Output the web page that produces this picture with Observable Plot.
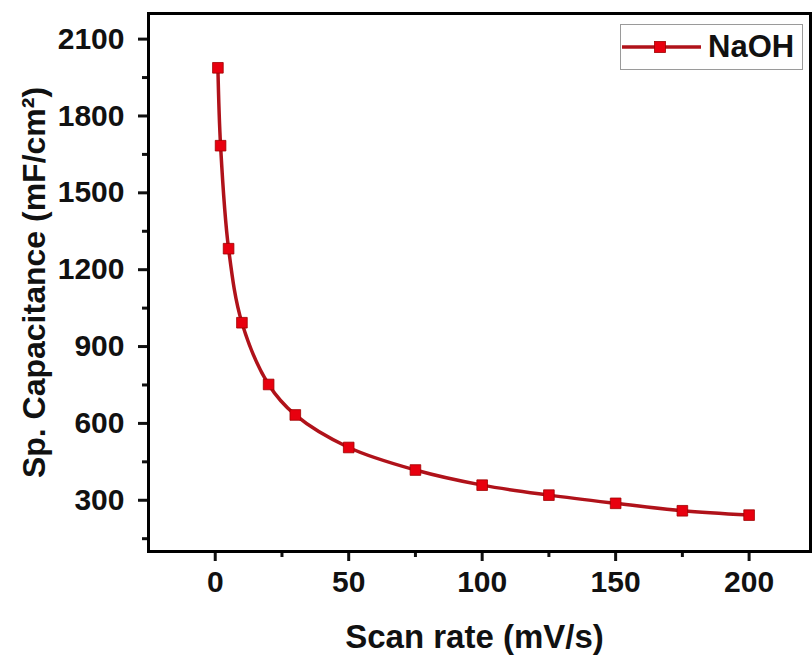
<!DOCTYPE html>
<html><head><meta charset="utf-8">
<script src="https://cdn.jsdelivr.net/npm/d3@7"></script>
<script src="https://cdn.jsdelivr.net/npm/@observablehq/plot@0.6"></script>
<style>
body{margin:0;background:#fff;}
#wrap{position:relative;width:812px;height:655px;}
#legend{position:absolute;left:620px;top:24px;width:181px;height:44px;border:1px solid #9a9a9a;background:#fff;font-family:"Liberation Sans",Arial,sans-serif;font-weight:bold;font-size:31px;display:flex;align-items:center;color:#111;}
#legend svg{display:block;margin-right:3px;}
</style></head><body><div id="wrap"></div>
<script>
const scanRate = [1, 2, 5, 10, 20, 30, 50, 75, 100, 125, 150, 175, 200];
const capacitance = [1988, 1684, 1282, 993, 752, 633, 506, 418, 359, 320, 288, 259, 242];
const seriesName = "NaOH";
const xTicks = [0, 50, 100, 150, 200];
const xMinor = [25, 75, 125, 175];
const yTicks = [300, 600, 900, 1200, 1500, 1800, 2100];
const yMinor = [150, 450, 750, 1050, 1350, 1650, 1950];
const xTitle = "Scan rate (mV/s)";
const yTitle = "Sp. Capacitance (mF/cm²)";

const data = scanRate.map((x, i) => ({x, y: capacitance[i]}));
const lineColor = "#b0121a";
const markColor = "#e8000f";

const chart = Plot.plot({
  width: 812, height: 655,
  marginLeft: 148, marginRight: 2, marginTop: 13, marginBottom: 104,
  x: {domain: [-25, 223]},
  y: {domain: [100, 2200]},
  style: {fontFamily: "'Liberation Sans', Arial, sans-serif", fontWeight: "bold", background: "#fff", color: "#111"},
  marks: [
    Plot.axisX({ticks: xTicks, tickSize: 10, tickPadding: 9, fontSize: 30, strokeWidth: 3, label: null, tickFormat: d => String(d)}),
    Plot.axisX({ticks: xMinor, tickSize: 6, strokeWidth: 3, label: null, tickFormat: () => ""}),
    Plot.axisY({ticks: yTicks, tickSize: 10, tickPadding: 14, fontSize: 30, strokeWidth: 3, label: null, tickFormat: d => String(d)}),
    Plot.axisY({ticks: yMinor, tickSize: 6, strokeWidth: 3, label: null, tickFormat: () => ""}),
    Plot.line(data, {x: "x", y: "y", stroke: lineColor, strokeWidth: 3.5, curve: "catmull-rom"}),
    Plot.dot(data, {x: "x", y: "y", symbol: "square", r: 6, fill: markColor, stroke: "#a00000", strokeWidth: 0.8}),
    Plot.frame({stroke: "#000", strokeWidth: 3}),
    Plot.text([xTitle], {frameAnchor: "bottom", dx: -5, dy: 96, lineAnchor: "bottom", textAnchor: "middle", fontSize: 33, fill: "#111"}),
    Plot.text([yTitle], {frameAnchor: "left", dx: -114, rotate: -90, lineAnchor: "middle", textAnchor: "middle", fontSize: 32, fill: "#111"})
  ]
});
document.getElementById("wrap").append(chart);

const legend = document.createElement("div");
legend.id = "legend";
legend.innerHTML = `<svg width="84" height="20"><line x1="1" x2="80" y1="10" y2="10" stroke="${lineColor}" stroke-width="3.5"/><rect x="33.5" y="4.5" width="11" height="11" fill="${markColor}" stroke="#a00000" stroke-width="0.8"/></svg><span>${seriesName}</span>`;
document.getElementById("wrap").append(legend);
</script>
</body></html>
